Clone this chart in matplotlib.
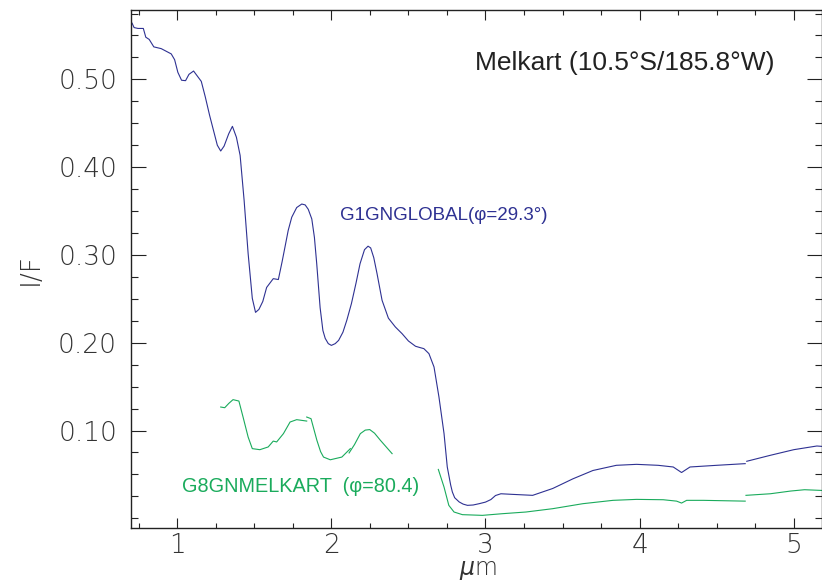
import matplotlib
matplotlib.use("Agg")
import matplotlib.pyplot as plt
from matplotlib.ticker import MultipleLocator, FormatStrFormatter

plt.rcParams["mathtext.fontset"] = "dejavusans"

# G1GNGLOBAL spectrum (blue), two pieces
g1_x1 = [0.707, 0.72, 0.745, 0.78, 0.796, 0.818, 0.848, 0.896, 0.961, 0.983, 1.004,
         1.028, 1.054, 1.076, 1.106, 1.156, 1.182, 1.21, 1.26, 1.282, 1.304, 1.334,
         1.358, 1.384, 1.408, 1.434, 1.46, 1.487, 1.508, 1.53, 1.555, 1.58, 1.623,
         1.656, 1.68, 1.699, 1.72, 1.743, 1.775, 1.808, 1.83, 1.85, 1.873, 1.89, 1.905,
         1.927, 1.945, 1.96, 1.98, 2.0, 2.025, 2.047, 2.075, 2.10, 2.13, 2.16, 2.186,
         2.215, 2.238, 2.255, 2.275, 2.296, 2.329, 2.37, 2.415, 2.459, 2.50, 2.546,
         2.575, 2.60, 2.633, 2.666, 2.698, 2.731, 2.752, 2.774, 2.785, 2.80, 2.829,
         2.855, 2.883, 2.92, 2.959, 3.0, 3.035, 3.065, 3.10, 3.176, 3.306, 3.436,
         3.567, 3.697, 3.849, 3.98, 4.12, 4.218, 4.272, 4.327, 4.50, 4.685]
g1_y1 = [0.564, 0.559, 0.558, 0.558, 0.548, 0.5455, 0.537, 0.535, 0.529, 0.5224, 0.508,
         0.499, 0.4985, 0.5057, 0.5095, 0.4977, 0.480, 0.459, 0.425, 0.4184, 0.424, 0.438,
         0.4465, 0.434, 0.4134, 0.362, 0.3015, 0.2506, 0.2346, 0.238, 0.247, 0.263, 0.273,
         0.272, 0.292, 0.309, 0.328, 0.343, 0.354, 0.358, 0.357, 0.352, 0.341, 0.32, 0.29,
         0.24, 0.214, 0.205, 0.199, 0.197, 0.199, 0.2027, 0.212, 0.2255, 0.2445, 0.268,
         0.29, 0.306, 0.31, 0.308, 0.297, 0.279, 0.2483, 0.228, 0.218, 0.2103, 0.202, 0.196,
         0.1945, 0.1933, 0.1876, 0.1724, 0.1382, 0.0965, 0.0585, 0.038, 0.030, 0.0235,
         0.0187, 0.0162, 0.0148, 0.0152, 0.0167, 0.0185, 0.0214, 0.026, 0.028, 0.0273,
         0.0262, 0.034, 0.045, 0.0545, 0.0604, 0.0615, 0.0604, 0.0585, 0.0522, 0.0585,
         0.0604, 0.0623]
g1_x2 = [4.695, 4.848, 5.0, 5.15, 5.18]
g1_y2 = [0.065, 0.0718, 0.0782, 0.0824, 0.082]

# G8GNMELKART spectrum (green), several pieces
g8_x1 = [1.282, 1.308, 1.335, 1.362, 1.40, 1.427, 1.46, 1.487, 1.536, 1.59, 1.623,
         1.645, 1.689, 1.732, 1.775, 1.84]
g8_y1 = [0.1268, 0.126, 0.131, 0.1352, 0.1336, 0.1154, 0.0926, 0.0794, 0.0782, 0.0813,
         0.088, 0.087, 0.0965, 0.1097, 0.1124, 0.1108]
g8_x2 = [1.84, 1.868, 1.906, 1.93, 1.949, 1.993, 2.068, 2.123]
g8_y2 = [0.1154, 0.1135, 0.0889, 0.076, 0.0698, 0.0667, 0.0698, 0.0794]
g8_x3 = [2.115, 2.15, 2.188, 2.22, 2.249, 2.28, 2.318, 2.394]
g8_y3 = [0.0745, 0.084, 0.0965, 0.1005, 0.1011, 0.097, 0.0889, 0.0737]
g8_x4 = [2.694, 2.731, 2.762, 2.796, 2.85, 2.98, 3.11, 3.262, 3.436, 3.632, 3.827,
         3.98, 4.153, 4.24, 4.272, 4.305, 4.414, 4.685]
g8_y4 = [0.0557, 0.0356, 0.0148, 0.0072, 0.0042, 0.0034, 0.0053, 0.0072, 0.011, 0.0167,
         0.0205, 0.0216, 0.0212, 0.0196, 0.0174, 0.0205, 0.0205, 0.0196]
g8_x5 = [4.69, 4.848, 4.98, 5.07, 5.18]
g8_y5 = [0.0262, 0.028, 0.0311, 0.0326, 0.0318]

blue = "#2e3192"
green = "#1aab5c"

fig = plt.figure(figsize=(8.22, 5.81), dpi=100)
ax = fig.add_axes([131 / 822, 53 / 581, 690.5 / 822, 518 / 581])

ax.plot(g1_x1, g1_y1, color=blue, lw=0.8)
ax.plot(g1_x2, g1_y2, color=blue, lw=0.8)
for gx, gy in [(g8_x1, g8_y1), (g8_x2, g8_y2), (g8_x3, g8_y3), (g8_x4, g8_y4), (g8_x5, g8_y5)]:
    ax.plot(gx, gy, color=green, lw=0.8)

ax.set_xlim(0.7, 5.18)
ax.set_ylim(-0.011, 0.579)

ax.xaxis.set_major_locator(MultipleLocator(1))
ax.xaxis.set_minor_locator(MultipleLocator(0.25))
ax.yaxis.set_minor_locator(MultipleLocator(0.025))
ax.set_yticks([0.1, 0.2, 0.3, 0.4, 0.5])
ax.yaxis.set_major_formatter(FormatStrFormatter("%.2f"))

ax.tick_params(axis="both", which="both", direction="in", top=True, right=True,
               colors="#222222", labelcolor="#333333", labelsize=19, width=0.8)
ax.tick_params(axis="x", which="major", length=7.5, pad=3.5)
ax.tick_params(axis="x", which="minor", length=3.7)
ax.tick_params(axis="y", which="major", length=11, pad=10)
ax.tick_params(axis="y", which="minor", length=5.3)
for lab in ax.get_xticklabels() + ax.get_yticklabels():
    lab.set_fontweight("light")
for s in ax.spines.values():
    s.set_linewidth(1.0)
    s.set_color("#222222")

ax.set_ylabel("I/F", fontsize=19, color="#333333", fontweight="light")
ax.yaxis.set_label_coords(-0.128, 0.5)
ax.set_xlabel(r"$\mu$m", fontsize=17, color="#333333", fontweight="light")
ax.xaxis.set_label_coords(0.503, -0.058)

ax.text(2.935, 0.519, "Melkart (10.5°S/185.8°W)", fontsize=19,
        family="Liberation Sans", color="#222222", va="center")
ax.text(2.055, 0.345, "G1GNGLOBAL(φ=29.3°)", fontsize=13.5, family="Liberation Sans",
        color=blue, va="center")
ax.text(1.033, 0.0364, "G8GNMELKART  (φ=80.4)", fontsize=14.3, family="Liberation Sans",
        color=green, va="center")

fig.savefig("out.png", dpi=100)
